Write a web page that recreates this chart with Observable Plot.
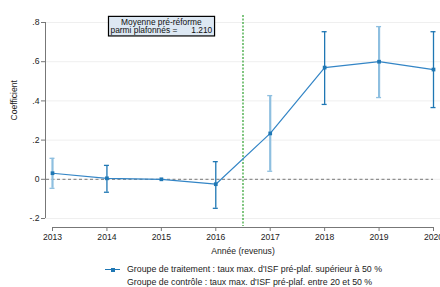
<!DOCTYPE html>
<html>
<head>
<meta charset="utf-8">
<script src="https://cdn.jsdelivr.net/npm/d3@7"></script>
<script src="https://cdn.jsdelivr.net/npm/@observablehq/plot@0.6"></script>
<style>
  body { margin: 0; background: #fff; font-family: "Liberation Sans", Arial, sans-serif; }
  #legend { font-size: 8.8px; color: #222; margin-top: 7px; line-height: 13px; }
  .row { display: flex; align-items: center; height: 13px; }
  .sym { width: 15px; margin-left: 105px; margin-right: 7px; position: relative; height: 13px; }
  .sym .ln { position: absolute; left: 0; right: 0; top: 6px; height: 1.3px; background: #1f77b4; }
  .sym .sq { position: absolute; left: 5.5px; top: 4.7px; width: 4px; height: 4px; background: #1f77b4; }
</style>
</head>
<body>
<div id="chart"></div>
<div id="legend"></div>
<script>
const years = [2013, 2014, 2015, 2016, 2017, 2018, 2019, 2020];
const coef  = [0.031, 0.005, 0.0, -0.025, 0.234, 0.570, 0.600, 0.560];
const ciLow = [-0.046, -0.066, null, -0.148, 0.041, 0.382, 0.417, 0.366];
const ciHigh = [0.107, 0.071, null, 0.090, 0.427, 0.753, 0.779, 0.753];
const yTicks = [-0.2, 0, 0.2, 0.4, 0.6, 0.8];
const yTickLabels = ["-.2", "0", ".2", ".4", ".6", ".8"];
const reformYear = 2016.5;
const annotLines = ["Moyenne pré-réforme", "parmi plafonnés =\u00a0\u00a0\u00a0\u00a0\u00a0\u00a01.210"];
const annotX = 2015;
const annotY = 0.78;
const legendLabels = [
  "Groupe de traitement : taux max. d'ISF pré-plaf. supérieur à 50 %",
  "Groupe de contrôle : taux max. d'ISF pré-plaf. entre 20 et 50 %"
];

const dark = "#1f77b4", light = "#8ebfe0", axisCol = "#777";
const ciShade = [light, dark, dark, dark, light, dark, light, dark];

const data = years.map((y, i) => ({year: y, coef: coef[i], lo: ciLow[i], hi: ciHigh[i], shade: ciShade[i]}));
const ciData = data.filter(d => d.lo != null);
const lightCI = ciData.filter(d => d.shade === light);
const darkCI = ciData.filter(d => d.shade === dark);

const fmtY = d => yTickLabels[yTicks.findIndex(t => Math.abs(t - d) < 1e-9)];

const chart = Plot.plot({
  width: 440,
  height: 256,
  marginLeft: 52,
  marginRight: 7,
  marginTop: 22,
  marginBottom: 38,
  style: {fontFamily: "'Liberation Sans', Arial, sans-serif", fontSize: "8.6px", color: "#222", background: "#fff"},
  x: {domain: [years[0], years[years.length - 1]]},
  y: {domain: [d3.min(yTicks), d3.max(yTicks)]},
  marks: [
    Plot.ruleY(yTicks, {stroke: "#efefef", strokeWidth: 1, insetLeft: -7, insetRight: -7}),
    Plot.ruleY([0], {stroke: axisCol, strokeDasharray: "3,2.5", strokeWidth: 1, insetLeft: -6}),
    Plot.ruleX([reformYear], {stroke: "#2ca02c", strokeDasharray: "2,1.5", strokeWidth: 1.2, insetTop: -7, insetBottom: -8}),
    // y axis line
    Plot.ruleX([years[0]], {y1: d3.min(yTicks), y2: d3.max(yTicks), dx: -7, stroke: axisCol}),
    // x axis line
    Plot.ruleY([d3.min(yTicks)], {x1: years[0], x2: years[years.length - 1], dy: 9, stroke: axisCol}),
    Plot.axisY({ticks: yTicks, tickFormat: fmtY, tickSize: 4, tickPadding: 2, dx: -7, stroke: axisCol, label: null}),
    Plot.axisX({ticks: years, tickFormat: d => String(d), tickSize: 4, tickPadding: 2, dy: 9, stroke: axisCol, label: null}),
    // CIs
    Plot.ruleX(lightCI, {x: "year", y1: "lo", y2: "hi", stroke: light, strokeWidth: 2.2}),
    Plot.ruleY(lightCI, {y: "hi", x1: "year", x2: "year", insetLeft: -2.5, insetRight: -2.5, stroke: light, strokeWidth: 1.3}),
    Plot.ruleY(lightCI, {y: "lo", x1: "year", x2: "year", insetLeft: -2.5, insetRight: -2.5, stroke: light, strokeWidth: 1.3}),
    Plot.ruleX(darkCI, {x: "year", y1: "lo", y2: "hi", stroke: dark, strokeWidth: 1.3}),
    Plot.ruleY(darkCI, {y: "hi", x1: "year", x2: "year", insetLeft: -2.5, insetRight: -2.5, stroke: dark, strokeWidth: 1.3}),
    Plot.ruleY(darkCI, {y: "lo", x1: "year", x2: "year", insetLeft: -2.5, insetRight: -2.5, stroke: dark, strokeWidth: 1.3}),
    Plot.line(data, {x: "year", y: "coef", stroke: "#3385c6", strokeWidth: 1.2}),
    Plot.dot(data, {x: "year", y: "coef", symbol: "square", r: 2.1, fill: dark, stroke: "none"}),
    // axis titles
    Plot.text(["Coefficient"], {frameAnchor: "left", rotate: -90, dx: -38, fill: "#222"}),
    Plot.text(["Année (revenus)"], {frameAnchor: "bottom", dy: 35, fill: "#222"}),
    // annotation
    Plot.text([annotLines.join("\n")], {x: annotX, y: annotY, fill: "#111", fontSize: 8.4, lineHeight: 1.02, className: "annot"})
  ]
});
document.getElementById("chart").appendChild(chart);

// draw box behind annotation
const annot = chart.querySelector(".annot text");
if (annot) {
  const bb = annot.getBBox();
  const rect = document.createElementNS("http://www.w3.org/2000/svg", "rect");
  rect.setAttribute("x", bb.x - 2);
  rect.setAttribute("y", bb.y - 0.5);
  rect.setAttribute("width", bb.width + 4);
  rect.setAttribute("height", bb.height + 1);
  rect.setAttribute("fill", "#dde8f3");
  rect.setAttribute("stroke", "#000");
  rect.setAttribute("stroke-width", "1.2");
  const tr = annot.getAttribute("transform");
  if (tr) rect.setAttribute("transform", tr);
  annot.parentNode.insertBefore(rect, annot);
}

const legend = d3.select("#legend");
legendLabels.forEach((lab, i) => {
  const row = legend.append("div").attr("class", "row");
  const sym = row.append("div").attr("class", "sym");
  if (i === 0) { sym.append("div").attr("class", "ln"); sym.append("div").attr("class", "sq"); }
  row.append("span").text(lab);
});
</script>
</body>
</html>
